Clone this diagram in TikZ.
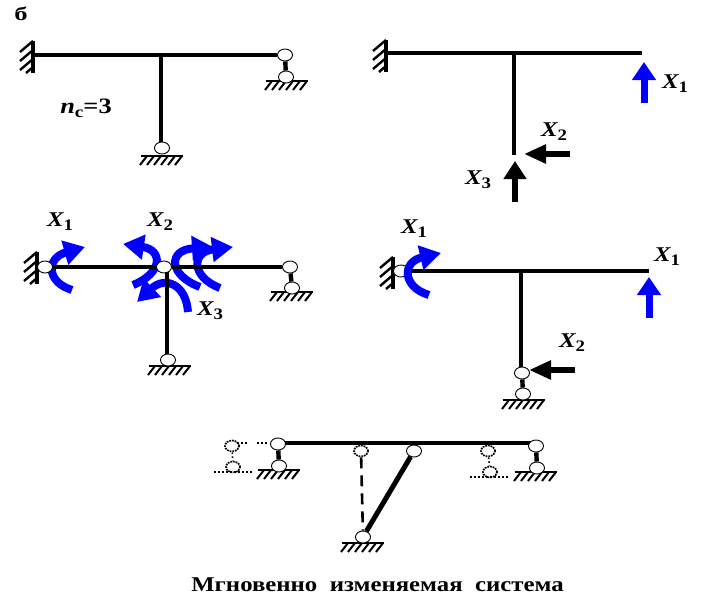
\documentclass[tikz,border=0pt]{standalone}
\usepackage{fontspec}
\setmainfont{Liberation Serif}
\usetikzlibrary{arrows.meta,shapes.geometric}

\newcommand{\Xlbl}[1]{X\raisebox{-4pt}{\fontsize{16}{16}\selectfont\upshape #1}}

\tikzset{
	beam/.style={line width=3.8pt},
	post/.style={line width=4.8pt},
	link/.style={line width=4.4pt},
	hinge/.style={draw,ellipse,fill=white,line width=0.9pt,minimum width=15pt,minimum height=12pt,inner sep=0pt},
	ghosthinge/.style={draw,ellipse,densely dotted,line width=1.7pt,minimum width=14pt,minimum height=11pt,inner sep=0pt},
	ghostline/.style={dash pattern=on 1.6pt off 2.4pt,line width=1.6pt},
	forcelabel/.style={font=\fontsize{21}{21}\selectfont\bfseries\itshape,xscale=1.18,inner sep=0pt},
	bluearrow/.style={draw=blue,line width=7pt,-{Triangle[length=18pt,width=23pt,fill=blue]}},
	blackup/.style={draw=black,line width=6pt,-{Triangle[length=18pt,width=22pt,fill=black]}},
	blackleft/.style={draw=black,line width=5.5pt,-{Triangle[length=22pt,width=18pt,fill=black]}},
	moment/.style={draw=blue,line width=8pt,-{Triangle[length=21pt,width=24pt,fill=blue]}},
	groundhatch/.pic={
		\draw[line width=2.8pt] (-21,0) -- (21,0);
		\foreach \k in {-15,-8,-1,6,13,20}
			\draw[line width=2pt] (\k,0) -- (\k-7,9);
	},
	wallhatch/.pic={
		\draw[line width=3.6pt] (0,-16) -- (0,16);
		\foreach \k in {-16,-7,2}
			\draw[line width=2.4pt] (0,\k) -- (-13,\k+11);
		\draw[line width=2.4pt] (0,10) -- (-7,16);
	},
}

\begin{document}
\begin{tikzpicture}[x=1pt,y=-1pt]
	\useasboundingbox (0,0) rectangle (710,608);
	\node[inner sep=0pt,xscale=1.4,font=\fontsize{19}{19}\selectfont\bfseries] (letter) at (21,14) {б};

	% top left
	\pic at (33,57) {wallhatch};
	\pic at (162,156) {groundhatch};
	\pic at (287,81) {groundhatch};
	\coordinate (aWall) at (33,55);
	\coordinate (aJoint) at (161,55);
	\coordinate (aPost) at (161,148);
	\node[hinge] (aEnd) at (285,55) {};
	\node[hinge] (aSupp) at (286,77) {};
	\draw[beam] (aWall) -- (aEnd);
	\draw[post] (aJoint) -- (aPost);
	\draw[link] (aEnd) -- (aSupp);
	\node[hinge] (aFoot) at (162,148) {};
	\node[inner sep=0pt,xscale=1.2,font=\fontsize{22}{22}\selectfont\bfseries] (ncount) at (86,108) {\textit{n}\raisebox{-4pt}{\fontsize{16}{16}\selectfont c}=3};

	% top right
	\pic at (386,56) {wallhatch};
	\coordinate (bWall) at (386,53);
	\coordinate (bEnd) at (642,53);
	\coordinate (bJoint) at (514,53);
	\coordinate (bFoot) at (514,155);
	\draw[beam] (bWall) -- (bEnd);
	\draw[post] (bJoint) -- (bFoot);
	\coordinate (bOneA) at (644,103);
	\coordinate (bOneB) at (644,62);
	\coordinate (bTwoA) at (570,154);
	\coordinate (bTwoB) at (524,154);
	\coordinate (bThreeA) at (515,202);
	\coordinate (bThreeB) at (515,161);
	\draw[bluearrow] (bOneA) -- (bOneB);
	\draw[blackleft] (bTwoA) -- (bTwoB);
	\draw[blackup] (bThreeA) -- (bThreeB);
	\node[forcelabel] (bLabelOne) at (675,84) {\Xlbl{1}};
	\node[forcelabel] (bLabelTwo) at (554,132) {\Xlbl{2}};
	\node[forcelabel] (bLabelThree) at (478,180) {\Xlbl{3}};

	% middle left
	\draw[moment] (72,290) .. controls (46,282) and (46,258) .. (85,247);
	\draw[moment] (133,285) .. controls (163,273) and (163,250) .. (123,244);
	\draw[moment] (200,287) .. controls (168,275) and (168,250) .. (213,247);
	\draw[moment] (220,288) .. controls (191,277) and (191,252) .. (233,247);
	\draw[moment] (188,312) .. controls (186,284) and (165,276) .. (137,302);
	\pic at (37,268) {wallhatch};
	\pic at (170,366) {groundhatch};
	\pic at (292,292) {groundhatch};
	\node[hinge] (cWall) at (45,267) {};
	\node[hinge] (cJoint) at (164,267) {};
	\node[hinge] (cEnd) at (290,267) {};
	\node[hinge] (cSupp) at (292,288) {};
	\coordinate (cPostTop) at (167,272);
	\coordinate (cPostEnd) at (167,360);
	\draw[beam] (cWall) -- (cJoint);
	\draw[beam] (cJoint) -- (cEnd);
	\draw[post] (cPostTop) -- (cPostEnd);
	\draw[link] (cEnd) -- (cSupp);
	\node[hinge] (cFoot) at (168,360) {};
	\node[forcelabel] (cLabelOne) at (60,222) {\Xlbl{1}};
	\node[forcelabel] (cLabelTwo) at (160,222) {\Xlbl{2}};
	\node[forcelabel] (cLabelThree) at (210,311) {\Xlbl{3}};

	% middle right
	\pic at (393,273) {wallhatch};
	\pic at (524,400) {groundhatch};
	\node[hinge] (dWall) at (401,271) {};
	\coordinate (dEnd) at (649,271);
	\coordinate (dJoint) at (521,271);
	\coordinate (dPost) at (521,373);
	\draw[beam] (dWall) -- (dEnd);
	\draw[post] (dJoint) -- (dPost);
	\node[hinge] (dFoot) at (522,373) {};
	\node[hinge] (dSupp) at (523,394) {};
	\draw[link] (dFoot) -- (dSupp);
	\draw[moment] (429,295) .. controls (402,287) and (402,262) .. (441,253);
	\coordinate (dOneA) at (649,318);
	\coordinate (dOneB) at (649,277);
	\coordinate (dTwoA) at (575,370);
	\coordinate (dTwoB) at (529,370);
	\draw[bluearrow] (dOneA) -- (dOneB);
	\draw[blackleft] (dTwoA) -- (dTwoB);
	\node[forcelabel] (dLabelOne) at (414,229) {\Xlbl{1}};
	\node[forcelabel] (dLabelRight) at (667,257) {\Xlbl{1}};
	\node[forcelabel] (dLabelTwo) at (572,343) {\Xlbl{2}};

	% bottom
	\pic at (279,470) {groundhatch};
	\pic at (536,472) {groundhatch};
	\pic at (363,543) {groundhatch};
	\coordinate (eBeamA) at (278,443);
	\coordinate (eBeamB) at (536,443);
	\draw[beam] (eBeamA) -- (eBeamB);
	\node[hinge] (eLeft) at (278,444) {};
	\node[hinge] (eLeftSupp) at (279,466) {};
	\node[hinge] (eRight) at (536,446) {};
	\node[hinge] (eRightSupp) at (537,468) {};
	\node[hinge] (eTop) at (414,451) {};
	\node[hinge] (eFoot) at (363,537) {};
	\draw[link] (eLeft) -- (eLeftSupp);
	\draw[link] (eRight) -- (eRightSupp);
	\draw[beam,line width=5pt] (eTop) -- (eFoot);
	\node[ghosthinge] (gLeft) at (232,446) {};
	\node[ghosthinge] (gLeftSupp) at (233,467) {};
	\node[ghosthinge] (gTop) at (361,451) {};
	\node[ghosthinge] (gRight) at (488,451) {};
	\node[ghosthinge] (gRightSupp) at (490,472) {};
	\draw[ghostline] (gLeft) -- (gLeftSupp);
	\draw[ghostline] (gRight) -- (gRightSupp);
	\draw[dash pattern=on 11pt off 7pt,line width=2.6pt] (gTop) -- (eFoot);
	\coordinate (hA) at (237,443);
	\coordinate (hB) at (248,443);
	\coordinate (hC) at (257,443);
	\coordinate (hD) at (268,443);
	\draw[ghostline,line width=2.2pt] (hA) -- (hB);
	\draw[ghostline,line width=2.2pt] (hC) -- (hD);
	\coordinate (hE) at (214,472);
	\coordinate (hF) at (252,472);
	\coordinate (hG) at (470,477);
	\coordinate (hH) at (508,477);
	\draw[ghostline] (hE) -- (hF);
	\draw[ghostline] (hG) -- (hH);
	\node[inner sep=0pt,xscale=1.18,font=\fontsize{21}{21}\selectfont\bfseries] (caption) at (377.5,585) {Мгновенно\ \ изменяемая\ \ система};
\end{tikzpicture}
\end{document}
